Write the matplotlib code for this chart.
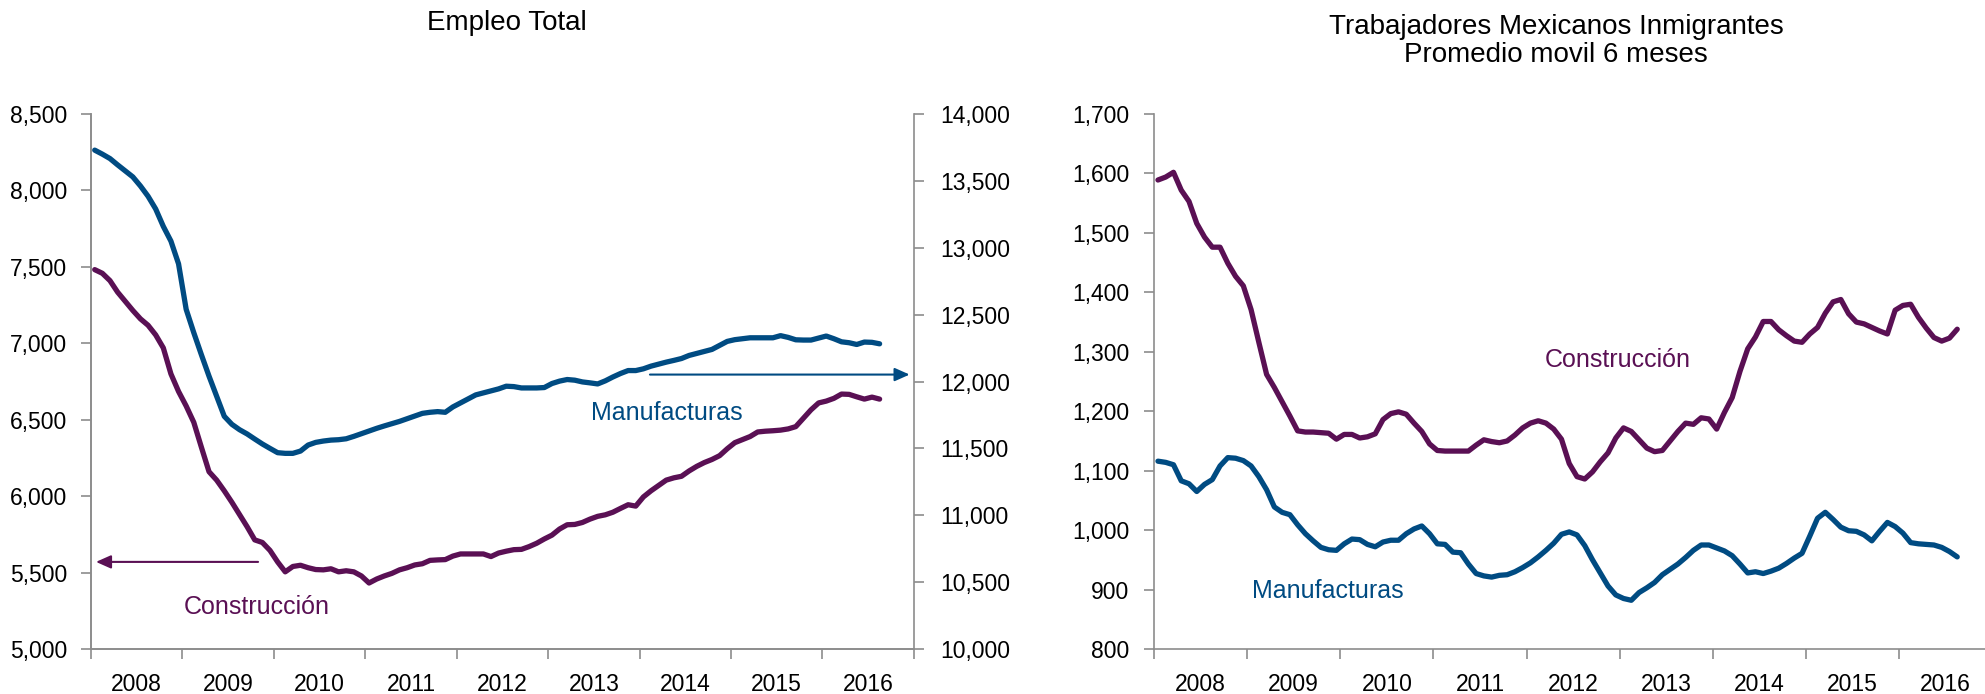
import numpy as np
import matplotlib.pyplot as plt
from matplotlib.ticker import MultipleLocator, FixedLocator, NullFormatter, StrMethodFormatter

plt.rcParams['font.family'] = ['Liberation Sans', 'DejaVu Sans']

# monthly data, Jan 2008 - Aug 2016 (thousands)
years = ['2008', '2009', '2010', '2011', '2012', '2013', '2014', '2015', '2016']

# Empleo total - construccion (left axis)
emp_const = [7482, 7458, 7410, 7335, 7275, 7215, 7160, 7118, 7055, 6970, 6800, 6685,
             6590, 6483, 6320, 6160, 6105, 6035, 5960, 5880, 5800, 5714, 5697, 5645,
             5570, 5505, 5540, 5548, 5532, 5520, 5518, 5525, 5505, 5512, 5505, 5478,
             5432, 5458, 5478, 5495, 5518, 5532, 5550, 5558, 5580, 5583, 5585, 5608,
             5622, 5622, 5622, 5622, 5605, 5628, 5640, 5650, 5652, 5670, 5692, 5720,
             5745, 5785, 5813, 5815, 5828, 5850, 5868, 5878, 5895, 5920, 5944, 5935,
             5995, 6035, 6070, 6105, 6120, 6130, 6165, 6195, 6220, 6240, 6265, 6310,
             6350, 6370, 6390, 6420, 6425, 6428, 6432, 6440, 6455, 6510, 6565, 6610,
             6622, 6640, 6668, 6666, 6650, 6635, 6648, 6635]

# Empleo total - manufacturas (right axis)
emp_manuf = [13730, 13700, 13667, 13620, 13575, 13530, 13462, 13385, 13290, 13160, 13050, 12880,
             12540, 12365, 12200, 12040, 11890, 11740, 11680, 11640, 11608, 11570, 11533, 11500,
             11468, 11463, 11463, 11480, 11525, 11545, 11555, 11562, 11565, 11572, 11590, 11610,
             11630, 11650, 11668, 11685, 11702, 11722, 11742, 11762, 11770, 11775, 11770, 11810,
             11840, 11870, 11900, 11915, 11930, 11945, 11965, 11962, 11952, 11952, 11952, 11955,
             11985, 12003, 12015, 12010, 11997, 11990, 11982, 12005, 12034, 12060, 12082, 12082,
             12095, 12115, 12130, 12145, 12158, 12172, 12195, 12210, 12225, 12240, 12270, 12300,
             12313, 12320, 12327, 12327, 12327, 12327, 12343, 12330, 12312, 12310, 12310, 12325,
             12340, 12320, 12297, 12290, 12277, 12295, 12293, 12282]

# Trabajadores mexicanos inmigrantes, promedio movil 6 meses
mex_const = [1589, 1594, 1602, 1572, 1553, 1516, 1493, 1476, 1476, 1449, 1427, 1411,
             1371, 1316, 1262, 1240, 1216, 1192, 1167, 1165, 1165, 1164, 1163, 1153,
             1161, 1161, 1155, 1157, 1162, 1186, 1196, 1199, 1195, 1180, 1166, 1145,
             1134, 1133, 1133, 1133, 1133, 1143, 1152, 1149, 1147, 1150, 1160, 1172,
             1180, 1184, 1180, 1170, 1153, 1112, 1090, 1086, 1098, 1115, 1130, 1155,
             1172, 1166, 1152, 1138, 1132, 1134, 1150, 1166, 1180, 1178, 1189, 1187,
             1170, 1198, 1223, 1267, 1305, 1325, 1351, 1351, 1337, 1327, 1318, 1316,
             1330, 1341, 1365, 1384, 1388, 1364, 1350, 1347, 1341, 1335, 1330, 1370,
             1378, 1380, 1358, 1340, 1324, 1318, 1323, 1338]

mex_manuf = [1116, 1114, 1110, 1083, 1078, 1065, 1077, 1085, 1108, 1122, 1121, 1117,
             1108, 1090, 1068, 1039, 1030, 1026, 1009, 994, 982, 971, 967, 966,
             977, 985, 984, 976, 972, 980, 983, 983, 994, 1002, 1007, 994,
             977, 976, 963, 962, 943, 927, 923, 921, 924, 925, 930, 937,
             945, 955, 966, 978, 993, 997, 992, 974, 950, 928, 906, 891,
             885, 882, 895, 903, 912, 925, 934, 943, 954, 966, 975, 975,
             970, 965, 957, 943, 928, 930, 927, 931, 936, 944, 953, 961,
             990, 1020, 1030, 1018, 1005, 999, 998, 992, 982, 998, 1013, 1006,
             995, 979, 977, 976, 975, 971, 964, 955]

purple = '#5A1054'
blue = '#004B82'
grey = '#8C8C8C'

months = np.arange(len(emp_const)) + 0.5

fig = plt.figure(figsize=(19.85, 6.94), dpi=100)
ax1 = fig.add_axes([0.0458, 0.0648, 0.4146, 0.7709])
ax2 = ax1.twinx()
ax3 = fig.add_axes([0.5814, 0.0648, 0.4222, 0.7709])


def style_x(ax):
    ax.set_xlim(0, 108)
    ax.xaxis.set_major_locator(MultipleLocator(12))
    ax.xaxis.set_major_formatter(NullFormatter())
    ax.xaxis.set_minor_locator(FixedLocator(np.arange(6, 108, 12)))
    ax.set_xticklabels(years, minor=True)
    ax.tick_params(axis='x', which='major', length=7, width=1.2, color=grey, direction='out')
    ax.tick_params(axis='x', which='minor', length=0, pad=17, labelsize=16.5)


for ax in (ax1, ax2, ax3):
    for s in ax.spines.values():
        s.set_color(grey)
        s.set_linewidth(1.2)
    ax.spines['top'].set_visible(False)

ax1.plot(months, emp_const, color=purple, lw=3.8, solid_capstyle='round')
ax2.plot(months, emp_manuf, color=blue, lw=3.8, solid_capstyle='round')
ax1.set_ylim(5000, 8500)
ax2.set_ylim(10000, 14000)
ax1.yaxis.set_major_locator(MultipleLocator(500))
ax2.yaxis.set_major_locator(MultipleLocator(500))
ax1.yaxis.set_major_formatter(StrMethodFormatter('{x:,.0f}'))
ax2.yaxis.set_major_formatter(StrMethodFormatter('{x:,.0f}'))
ax1.tick_params(axis='y', length=7, width=1.2, color=grey, pad=10, labelsize=16.5)
ax2.tick_params(axis='y', length=7, width=1.2, color=grey, pad=12, labelsize=16.5)
style_x(ax1)
ax1.spines['right'].set_visible(False)

ax1.annotate('', xy=(0.3, 5570), xytext=(22.3, 5570),
             arrowprops=dict(arrowstyle='-|>,head_length=0.9,head_width=0.4', color=purple, lw=1.5))
ax1.text(21.7, 5275, 'Construcción', color=purple, fontsize=18, ha='center', va='center')
ax2.annotate('', xy=(107.8, 12052), xytext=(73, 12052),
             arrowprops=dict(arrowstyle='-|>,head_length=0.9,head_width=0.4', color=blue, lw=1.5))
ax2.text(75.6, 11768, 'Manufacturas', color=blue, fontsize=18, ha='center', va='center')

ax3.plot(months, mex_const, color=purple, lw=3.8, solid_capstyle='round')
ax3.plot(months, mex_manuf, color=blue, lw=3.8, solid_capstyle='round')
ax3.set_ylim(800, 1700)
ax3.yaxis.set_major_locator(MultipleLocator(100))
ax3.yaxis.set_major_formatter(StrMethodFormatter('{x:,.0f}'))
ax3.tick_params(axis='y', length=7, width=1.2, color=grey, pad=11, labelsize=16.5)
style_x(ax3)
ax3.spines['right'].set_visible(False)
ax3.text(59.8, 1287, 'Construcción', color=purple, fontsize=18, ha='center', va='center')
ax3.text(22.4, 898, 'Manufacturas', color=blue, fontsize=18, ha='center', va='center')

fig.text(507 / 1985, 1 - 23 / 694, 'Empleo Total', fontsize=20, ha='center', va='center')
fig.text(1556 / 1985, 1 - 41 / 694, 'Trabajadores Mexicanos Inmigrantes\nPromedio movil 6 meses',
         fontsize=20, ha='center', va='center', linespacing=1.1)

fig.savefig('out.png', dpi=100)
